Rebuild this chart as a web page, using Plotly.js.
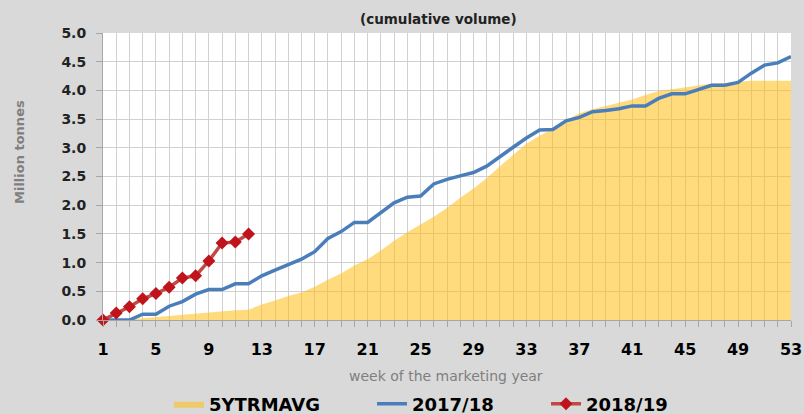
<!DOCTYPE html>
<html>
<head>
<meta charset="utf-8">
<script src="https://cdn.plot.ly/plotly-3.0.1.min.js"></script>
<style>html,body{margin:0;padding:0;background:#d9d9d9;}#chart{width:804px;height:414px;}</style>
</head>
<body>
<div id="chart"></div>
<script>
const weeks = [1,2,3,4,5,6,7,8,9,10,11,12,13,14,15,16,17,18,19,20,21,22,23,24,25,26,27,28,29,30,31,32,33,34,35,36,37,38,39,40,41,42,43,44,45,46,47,48,49,50,51,52,53];
const avg5 = [0,0,0.01,0.03,0.05,0.08,0.10,0.11,0.14,0.16,0.17,0.18,0.27,0.34,0.42,0.48,0.58,0.70,0.81,0.95,1.06,1.21,1.38,1.53,1.66,1.80,1.95,2.13,2.29,2.47,2.68,2.88,3.07,3.21,3.33,3.48,3.60,3.67,3.73,3.78,3.84,3.92,3.99,4.02,4.05,4.09,4.12,4.13,4.15,4.17,4.17,4.17,4.17];
const y2017 = [0,0,0,0.10,0.10,0.24,0.32,0.45,0.53,0.53,0.63,0.63,0.77,0.87,0.97,1.06,1.19,1.42,1.54,1.70,1.70,1.87,2.04,2.14,2.16,2.37,2.45,2.51,2.57,2.68,2.85,3.01,3.17,3.31,3.32,3.47,3.53,3.63,3.65,3.68,3.73,3.73,3.86,3.94,3.94,4.02,4.09,4.09,4.14,4.30,4.44,4.48,4.59];
const weeks2018 = [1,2,3,4,5,6,7,8,9,10,11,12];
const y2018 = [0,0.12,0.23,0.37,0.46,0.57,0.73,0.77,1.03,1.34,1.36,1.50];
const seriesNames = ['5YTRMAVG','2017/18','2018/19'];
const subtitle = '(cumulative volume)';
const yTitle = 'Million tonnes';
const xTitle = 'week of the marketing year';

const legendFont = {family:'DejaVu Sans', size:18, color:'#000', weight:'bold'};
const fillCol = 'rgba(255,190,20,0.55)';
const traces = [
  {x:weeks, y:avg5, type:'scatter', mode:'lines', fill:'tozeroy', fillcolor:fillCol, line:{width:0, color:fillCol}, name:seriesNames[0], legend:'legend', hoverinfo:'skip'},
  {x:weeks, y:y2017, type:'scatter', mode:'lines', line:{color:'#4a7ebb', width:3.5}, name:seriesNames[1], legend:'legend2'},
  {x:weeks2018, y:y2018, type:'scatter', mode:'lines+markers', line:{color:'#be4b48', width:3.5}, marker:{symbol:'diamond', size:10, color:'#c0141c'}, name:seriesNames[2], legend:'legend3', cliponaxis:false}
];
const legBase = {orientation:'h', xref:'container', yref:'container', xanchor:'left', yanchor:'middle', bgcolor:'rgba(0,0,0,0)', font:legendFont};
const layout = {
  width:804, height:414,
  paper_bgcolor:'#d9d9d9', plot_bgcolor:'#ffffff',
  margin:{l:103, r:13, t:33, b:94},
  showlegend:true,
  legend: Object.assign({}, legBase, {x:169/804, y:1-404/414}),
  legend2: Object.assign({}, legBase, {x:372/804, y:1-404/414}),
  legend3: Object.assign({}, legBase, {x:546/804, y:1-404/414}),
  xaxis:{
    range:[1,53], tick0:1, dtick:4, showgrid:true, gridcolor:'#d0d0d0', gridwidth:1,
    ticks:'outside', ticklen:6, tickcolor:'#a6a6a6', showline:true, linecolor:'#a6a6a6', linewidth:1,
    tickfont:{family:'DejaVu Sans', size:16, color:'#000', weight:'bold'}, ticklabelstandoff:9,
    minor:{tick0:1, dtick:1, showgrid:true, gridcolor:'#d0d0d0', ticks:'outside', ticklen:6, tickcolor:'#a6a6a6'},
    zeroline:false, fixedrange:true
  },
  yaxis:{
    range:[0,5], dtick:0.5, tickformat:'.1f', showgrid:true, gridcolor:'#d0d0d0', gridwidth:1,
    ticks:'outside', ticklen:6, tickcolor:'#a6a6a6', showline:true, linecolor:'#a6a6a6', linewidth:1,
    tickfont:{family:'DejaVu Sans', size:14, color:'#222', weight:'bold'}, ticklabelstandoff:7,
    zeroline:false, fixedrange:true
  },
  annotations:[
    {text:subtitle, xref:'paper', yref:'paper', x:(438-103)/688, y:(320-19)/287, showarrow:false, xanchor:'center', yanchor:'middle', font:{family:'DejaVu Sans', size:13.5, color:'#222', weight:'bold'}},
    {text:yTitle, xref:'paper', yref:'paper', x:(19-103)/688, y:(320-152)/287, showarrow:false, textangle:-90, xanchor:'center', yanchor:'middle', font:{family:'DejaVu Sans', size:13, color:'#7f7f7f', weight:'bold'}},
    {text:xTitle, xref:'paper', yref:'paper', x:(446-103)/688, y:(320-376)/287, showarrow:false, xanchor:'center', yanchor:'middle', font:{family:'DejaVu Sans', size:14, color:'#7f7f7f'}}
  ]
};
Plotly.newPlot('chart', traces, layout, {displayModeBar:false, staticPlot:true});
</script>
</body>
</html>
